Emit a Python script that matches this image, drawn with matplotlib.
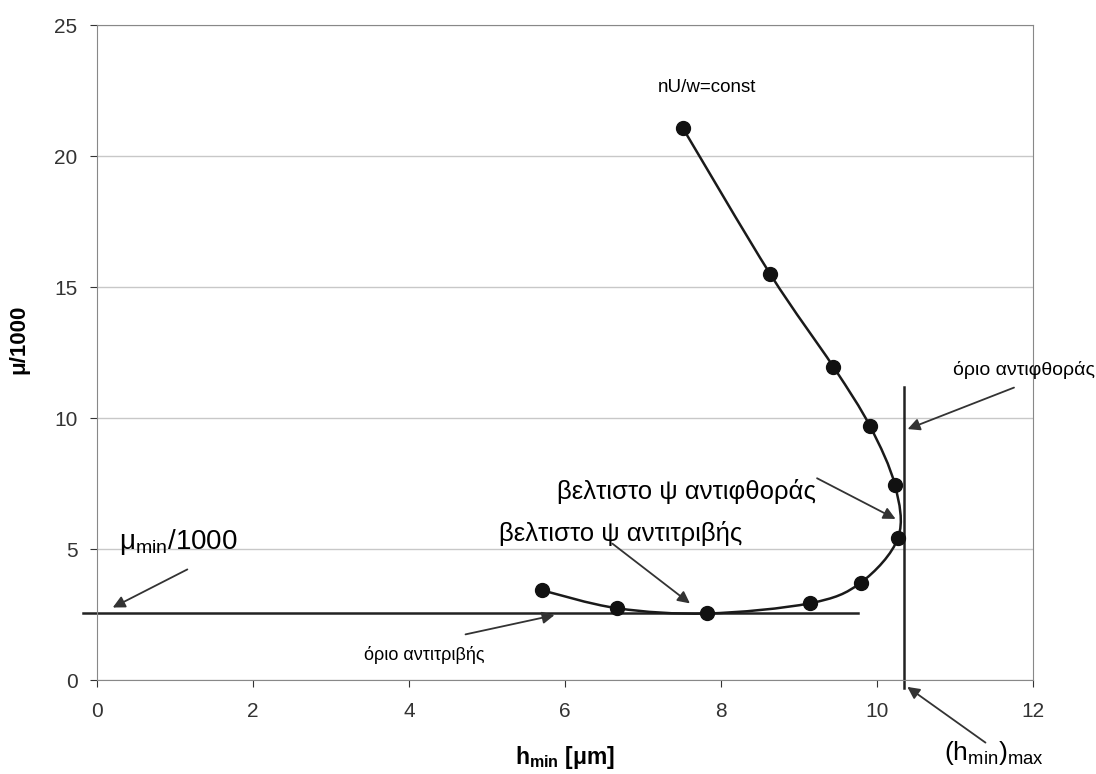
import matplotlib.pyplot as plt
import numpy as np
from matplotlib.path import Path
from matplotlib.patches import PathPatch

plt.rcParams['font.family'] = ['Liberation Sans', 'DejaVu Sans']
plt.rcParams['mathtext.fontset'] = 'custom'
plt.rcParams['mathtext.rm'] = 'Liberation Sans'
plt.rcParams['mathtext.bf'] = 'Liberation Sans:bold'

# data (curve order)
h_min = [5.70, 6.67, 7.82, 9.14, 9.79, 10.27, 10.23, 9.91, 9.44, 8.63, 7.51]
mu_k = [3.43, 2.74, 2.54, 2.93, 3.71, 5.43, 7.44, 9.69, 11.96, 15.50, 21.07]

mu_min = 2.57          # lower limit line
h_max = 10.35          # vertical limit line
mu_line_x = [-0.18, 9.76]
h_line_y = [-0.3, 11.2]

x_ticks = [0, 2, 4, 6, 8, 10, 12]
y_ticks = [0, 5, 10, 15, 20, 25]


def smooth_path(x, y):
    # Catmull-Rom style bezier, like a smoothed scatter line
    pts = np.column_stack([x, y])
    n = len(pts)
    verts = [pts[0]]
    codes = [Path.MOVETO]
    for i in range(n - 1):
        p0 = pts[i - 1] if i > 0 else pts[i]
        p1 = pts[i]
        p2 = pts[i + 1]
        p3 = pts[i + 2] if i + 2 < n else pts[i + 1]
        c1 = p1 + (p2 - p0) / 6.0
        c2 = p2 - (p3 - p1) / 6.0
        verts += [c1, c2, p2]
        codes += [Path.CURVE4] * 3
    return Path(verts, codes)


fig = plt.figure(figsize=(10.96, 7.74), dpi=100)
ax = fig.add_axes([0.0885, 0.1214, 0.854, 0.8463])

ax.add_patch(PathPatch(smooth_path(h_min, mu_k), fill=False, color='#1a1a1a', lw=1.8, zorder=3))
ax.plot(h_min, mu_k, 'o', color='#111111', markersize=10, zorder=4)

ax.plot(mu_line_x, [mu_min, mu_min], color='#222222', lw=1.8, clip_on=False, zorder=2)
ax.plot([h_max, h_max], h_line_y, color='#222222', lw=1.8, clip_on=False, zorder=2)

ax.set_xlim(0, 12)
ax.set_ylim(0, 25)
ax.set_xticks(x_ticks)
ax.set_yticks(y_ticks)
ax.tick_params(labelsize=15, colors='#333333', length=5, pad=9)
ax.tick_params(axis='x', pad=11)
ax.grid(True, axis='y', color='#c8c8c8', lw=1)
ax.set_axisbelow(True)
for s in ax.spines.values():
    s.set_color('#888888')

ax.set_xlabel(r'h$_{\mathbf{min}}$ [μm]', fontsize=16.5, fontweight='bold')
ax.xaxis.set_label_coords(0.5, -0.118)
ax.xaxis.label.set_va('center')
ax.set_ylabel('μ/1000', fontsize=16, fontweight='bold')
ax.yaxis.set_label_coords(-0.072, 0.52)

arrow = dict(arrowstyle='-|>', color='#333333', lw=1.3, mutation_scale=18)

ax.text(7.82, 22.6, 'nU/w=const', fontsize=13.5, ha='center', va='center')

ax.annotate('', xy=(10.36, 9.54), xytext=(11.79, 11.2), arrowprops=arrow, annotation_clip=False)
ax.text(11.88, 11.83, 'όριο αντιφθοράς', fontsize=14, ha='center', va='center', clip_on=False)

ax.annotate('', xy=(10.27, 6.1), xytext=(9.2, 7.75), arrowprops=arrow)
ax.text(7.56, 7.18, 'βελτιστο ψ αντιφθοράς', fontsize=18.5, ha='center', va='center')

ax.annotate('', xy=(7.63, 2.86), xytext=(6.58, 5.27), arrowprops=arrow)
ax.text(6.71, 5.6, 'βελτιστο ψ αντιτριβής', fontsize=18.5, ha='center', va='center')

ax.annotate('', xy=(0.17, 2.72), xytext=(1.19, 4.27), arrowprops=arrow)
ax.text(1.04, 5.27, r'μ$_{\mathregular{min}}$/1000', fontsize=20, ha='center', va='center')

ax.annotate('', xy=(5.9, 2.5), xytext=(4.69, 1.72), arrowprops=arrow)
ax.text(4.19, 0.95, 'όριο αντιτριβής', fontsize=13, ha='center', va='center')

ax.annotate('', xy=(10.36, -0.2), xytext=(11.42, -2.45), arrowprops=arrow, annotation_clip=False)
ax.text(11.5, -3.05, r'(h$_{\mathregular{min}}$)$_{\mathregular{max}}$', fontsize=19,
        ha='center', va='baseline', clip_on=False)

fig.savefig('out.png', dpi=100)
